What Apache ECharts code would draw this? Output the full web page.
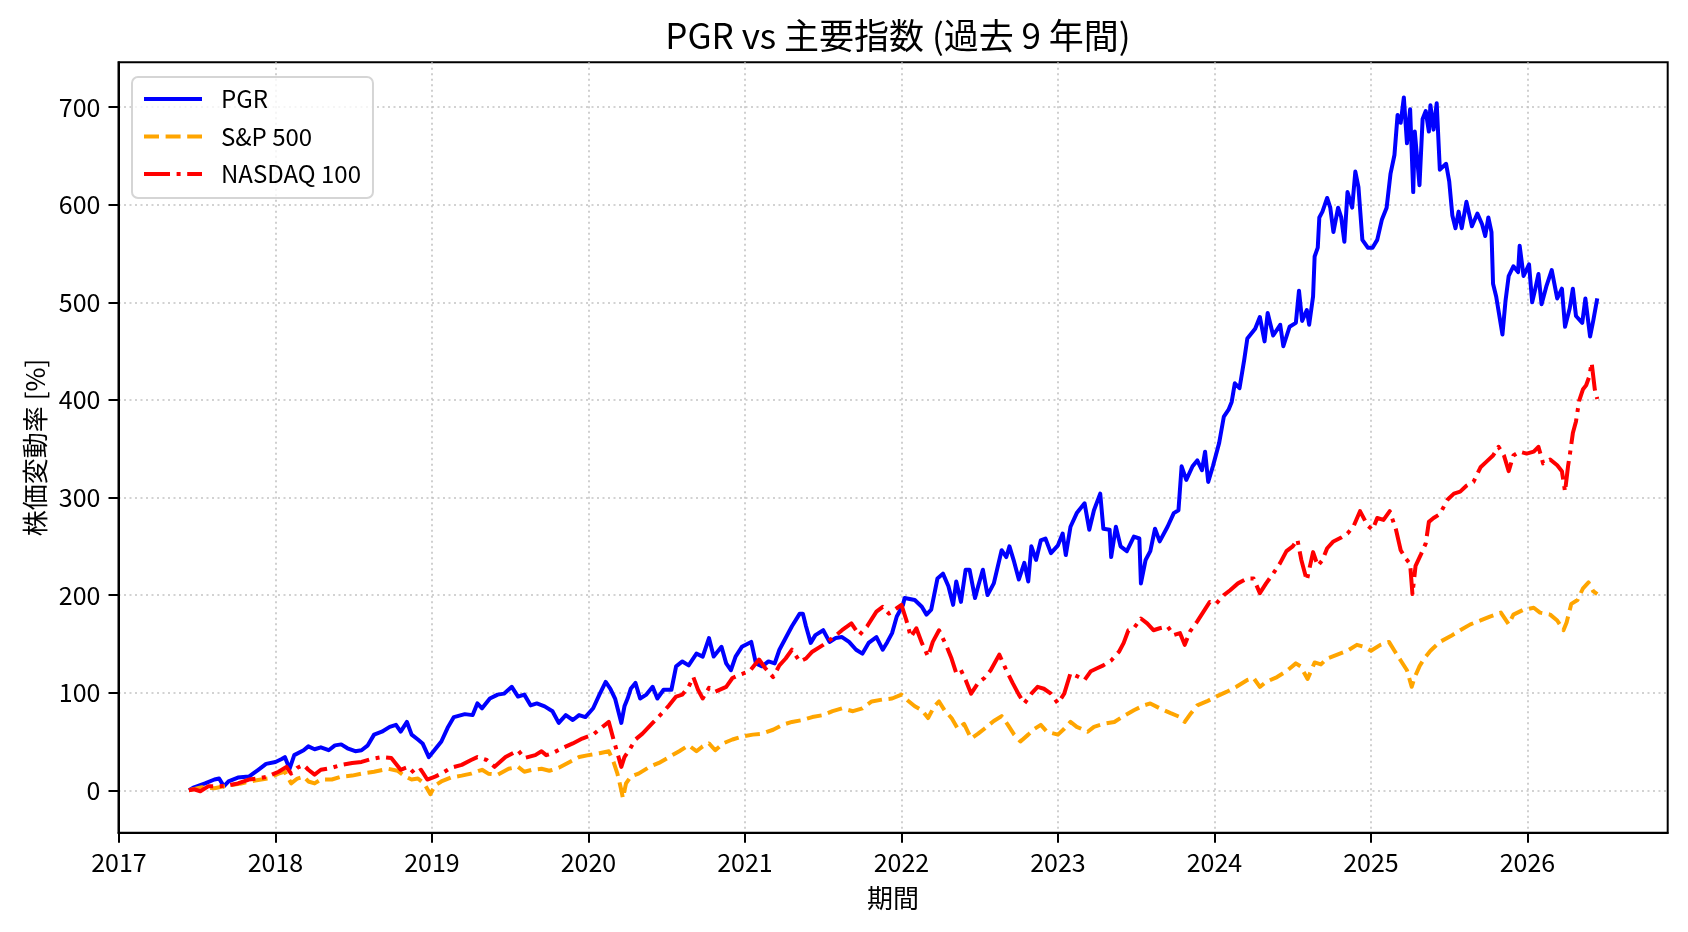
<!DOCTYPE html>
<html>
<head>
<meta charset="utf-8">
<title>PGR vs 主要指数</title>
<script src="https://cdn.jsdelivr.net/npm/echarts@6.0.0/dist/echarts.min.js"></script>
<style>
html, body { margin: 0; padding: 0; background: #fff; }
#chart { width: 1688px; height: 932px; }
</style>
</head>
<body>
<div id="chart"></div>
<script>
// 各点は [年(小数), 株価変動率 %]
var pgr = [
  [2017.447,0],[2017.48,3],[2017.55,7],[2017.61,11],[2017.64,12],[2017.67,4],[2017.70,9],[2017.76,13],[2017.83,14],[2017.89,21],
  [2017.94,27],[2018.00,29],[2018.04,32],[2018.06,34],[2018.09,22],[2018.12,36],[2018.18,41],[2018.21,45],[2018.25,42],[2018.29,44],
  [2018.34,41],[2018.38,46],[2018.42,47],[2018.46,43],[2018.51,40],[2018.55,41],[2018.59,46],[2018.63,57],[2018.68,60],[2018.73,65],
  [2018.77,67],[2018.80,60],[2018.84,70],[2018.87,57],[2018.91,52],[2018.94,48],[2018.98,34],[2019.01,40],[2019.06,50],[2019.10,64],
  [2019.14,75],[2019.21,78],[2019.26,77],[2019.29,89],[2019.32,84],[2019.37,94],[2019.42,98],[2019.46,99],[2019.51,106],[2019.55,96],
  [2019.59,98],[2019.63,87],[2019.67,89],[2019.72,86],[2019.77,81],[2019.81,69],[2019.855,77],[2019.90,72],[2019.94,77],[2019.98,75],
  [2020.03,84],[2020.07,98],[2020.11,111],[2020.14,104],[2020.17,94],[2020.21,69],[2020.23,86],[2020.25,94],[2020.27,104],[2020.30,110],
  [2020.33,94],[2020.37,98],[2020.41,106],[2020.44,94],[2020.48,103],[2020.53,103],[2020.56,127],[2020.60,132],[2020.64,128],[2020.69,140],
  [2020.73,137],[2020.77,156],[2020.80,137],[2020.85,147],[2020.88,130],[2020.91,123],[2020.94,137],[2020.98,147],[2021.04,152],[2021.07,130],
  [2021.11,127],[2021.15,132],[2021.19,130],[2021.22,144],[2021.26,156],[2021.30,168],[2021.35,181],[2021.37,181],[2021.39,168],[2021.42,151],
  [2021.45,159],[2021.50,164],[2021.54,152],[2021.58,156],[2021.62,157],[2021.665,152],[2021.71,144],[2021.75,140],[2021.79,151],[2021.84,157],
  [2021.88,144],[2021.91,152],[2021.94,161],[2021.97,178],[2022.01,190],[2022.02,197],[2022.085,195],[2022.13,188],[2022.16,180],[2022.19,185],
  [2022.23,217],[2022.265,222],[2022.30,209],[2022.33,190],[2022.35,214],[2022.38,193],[2022.41,226],[2022.435,226],[2022.47,197],[2022.49,209],
  [2022.52,226],[2022.55,200],[2022.59,212],[2022.64,246],[2022.67,239],[2022.69,250],[2022.72,234],[2022.75,216],[2022.785,233],[2022.81,214],
  [2022.83,250],[2022.86,236],[2022.89,256],[2022.92,258],[2022.955,243],[2023.00,251],[2023.03,263],[2023.05,241],[2023.08,270],[2023.12,284],
  [2023.17,294],[2023.20,267],[2023.23,287],[2023.27,304],[2023.29,268],[2023.33,267],[2023.34,239],[2023.37,270],[2023.40,250],[2023.44,245],
  [2023.485,260],[2023.52,258],[2023.53,212],[2023.56,236],[2023.59,245],[2023.62,268],[2023.65,255],[2023.70,270],[2023.74,284],[2023.77,287],
  [2023.79,332],[2023.82,318],[2023.86,332],[2023.89,338],[2023.92,328],[2023.94,347],[2023.96,316],[2023.99,332],[2024.03,356],[2024.06,383],
  [2024.09,390],[2024.11,398],[2024.13,417],[2024.16,412],[2024.19,441],[2024.21,463],[2024.26,473],[2024.29,485],[2024.32,460],[2024.34,489],
  [2024.375,466],[2024.42,477],[2024.44,455],[2024.48,475],[2024.52,479],[2024.54,512],[2024.56,481],[2024.59,492],[2024.605,477],[2024.63,506],
  [2024.64,547],[2024.66,556],[2024.67,587],[2024.69,593],[2024.72,607],[2024.74,597],[2024.76,572],[2024.79,597],[2024.81,587],[2024.83,562],
  [2024.85,613],[2024.88,597],[2024.90,634],[2024.92,618],[2024.945,564],[2024.98,556],[2025.01,556],[2025.04,564],[2025.07,585],[2025.10,597],
  [2025.125,632],[2025.15,651],[2025.17,692],[2025.19,684],[2025.21,710],[2025.23,663],[2025.25,698],[2025.27,613],[2025.28,675],[2025.31,620],
  [2025.33,688],[2025.35,696],[2025.37,675],[2025.38,702],[2025.40,677],[2025.42,704],[2025.44,636],[2025.48,642],[2025.50,624],[2025.52,589],
  [2025.54,576],[2025.56,593],[2025.58,576],[2025.61,603],[2025.645,578],[2025.68,591],[2025.71,580],[2025.73,568],[2025.75,587],[2025.77,572],
  [2025.78,519],[2025.80,506],[2025.84,467],[2025.86,502],[2025.88,527],[2025.91,537],[2025.94,531],[2025.95,558],[2025.975,527],[2026.01,539],
  [2026.03,500],[2026.05,514],[2026.07,529],[2026.09,498],[2026.12,516],[2026.155,533],[2026.19,504],[2026.22,514],[2026.24,475],[2026.27,494],
  [2026.29,514],[2026.31,486],[2026.35,479],[2026.37,504],[2026.40,465],[2026.42,481],[2026.446,504]
];

var sp500 = [
  [2017.447,0],[2017.53,3],[2017.61,2],[2017.70,5],[2017.78,7],[2017.87,10],[2017.95,12],[2018.02,17],[2018.06,19],[2018.10,7],
  [2018.14,12],[2018.18,14],[2018.21,9],[2018.25,7],[2018.29,11],[2018.36,11],[2018.42,14],[2018.49,15],[2018.55,17],[2018.63,19],
  [2018.72,22],[2018.78,20],[2018.83,14],[2018.87,11],[2018.91,12],[2018.95,7],[2018.99,-4],[2019.02,5],[2019.06,9],[2019.12,13],
  [2019.19,15],[2019.25,17],[2019.32,21],[2019.36,17],[2019.42,16],[2019.49,22],[2019.55,24],[2019.59,19],[2019.64,21],[2019.70,22],
  [2019.75,20],[2019.81,23],[2019.88,29],[2019.94,34],[2020.00,36],[2020.07,38],[2020.13,40],[2020.16,29],[2020.185,17],[2020.21,0],
  [2020.22,-8],[2020.24,7],[2020.27,14],[2020.32,17],[2020.39,24],[2020.45,28],[2020.515,34],[2020.58,40],[2020.64,46],[2020.69,40],
  [2020.73,45],[2020.77,48],[2020.81,41],[2020.86,48],[2020.92,52],[2020.98,55],[2021.05,57],[2021.11,58],[2021.18,62],[2021.24,67],
  [2021.30,70],[2021.37,72],[2021.43,75],[2021.50,77],[2021.56,81],[2021.62,84],[2021.69,81],[2021.75,84],[2021.81,91],[2021.88,93],
  [2021.94,94],[2022.00,98],[2022.04,92],[2022.085,86],[2022.13,82],[2022.17,74],[2022.21,86],[2022.24,91],[2022.275,82],[2022.32,74],
  [2022.36,63],[2022.40,68],[2022.445,53],[2022.49,58],[2022.53,63],[2022.59,71],[2022.64,76],[2022.68,67],[2022.72,57],[2022.76,50],
  [2022.81,57],[2022.85,63],[2022.89,67],[2022.93,60],[2023.00,57],[2023.04,63],[2023.08,70],[2023.12,65],[2023.19,60],[2023.23,65],
  [2023.29,68],[2023.36,70],[2023.42,76],[2023.485,82],[2023.55,87],[2023.59,89],[2023.65,84],[2023.72,79],[2023.78,75],[2023.81,70],
  [2023.85,79],[2023.89,87],[2023.95,91],[2024.01,96],[2024.08,101],[2024.14,106],[2024.21,113],[2024.25,115],[2024.29,106],[2024.33,111],
  [2024.40,116],[2024.46,122],[2024.52,130],[2024.55,127],[2024.595,114],[2024.64,131],[2024.68,129],[2024.72,135],[2024.785,139],[2024.85,143],
  [2024.91,149],[2024.955,147],[2025.00,143],[2025.06,149],[2025.115,152],[2025.15,143],[2025.19,133],[2025.23,123],[2025.26,106],[2025.28,116],
  [2025.31,127],[2025.34,135],[2025.38,143],[2025.44,152],[2025.51,158],[2025.57,164],[2025.635,170],[2025.70,174],[2025.76,178],[2025.83,182],
  [2025.88,170],[2025.91,180],[2025.975,185],[2026.04,187],[2026.08,182],[2026.145,180],[2026.19,174],[2026.23,164],[2026.25,172],[2026.28,191],
  [2026.32,195],[2026.355,207],[2026.39,213],[2026.42,204],[2026.446,201]
];

var nasdaq100 = [
  [2017.447,0],[2017.48,1],[2017.52,-1],[2017.57,4],[2017.63,4],[2017.70,5],[2017.76,7],[2017.83,11],[2017.89,12],[2017.95,14],
  [2018.02,19],[2018.07,24],[2018.10,17],[2018.14,23],[2018.18,26],[2018.21,21],[2018.25,16],[2018.29,21],[2018.36,23],[2018.42,26],
  [2018.49,28],[2018.55,29],[2018.61,32],[2018.68,34],[2018.74,33],[2018.80,21],[2018.85,24],[2018.89,17],[2018.93,21],[2018.97,11],
  [2019.02,14],[2019.06,17],[2019.12,23],[2019.19,26],[2019.25,31],[2019.29,34],[2019.35,31],[2019.40,24],[2019.47,34],[2019.55,41],
  [2019.59,33],[2019.66,36],[2019.70,40],[2019.73,36],[2019.77,38],[2019.83,43],[2019.90,48],[2019.96,53],[2020.03,57],[2020.09,65],
  [2020.13,70],[2020.16,52],[2020.185,38],[2020.21,24],[2020.23,34],[2020.26,41],[2020.30,52],[2020.345,58],[2020.41,69],[2020.47,79],
  [2020.515,87],[2020.56,96],[2020.60,98],[2020.64,106],[2020.67,116],[2020.70,103],[2020.73,94],[2020.77,105],[2020.81,101],[2020.88,106],
  [2020.92,115],[2020.96,118],[2021.03,122],[2021.09,134],[2021.13,125],[2021.18,116],[2021.22,128],[2021.26,135],[2021.30,144],[2021.35,132],
  [2021.39,135],[2021.43,142],[2021.50,149],[2021.56,156],[2021.62,164],[2021.68,171],[2021.73,159],[2021.78,168],[2021.84,183],[2021.88,188],
  [2021.92,181],[2021.965,186],[2022.00,190],[2022.03,175],[2022.06,157],[2022.095,166],[2022.13,151],[2022.17,137],[2022.20,152],[2022.24,164],
  [2022.29,147],[2022.32,135],[2022.35,120],[2022.38,123],[2022.41,113],[2022.445,99],[2022.49,110],[2022.53,115],[2022.57,123],[2022.625,139],
  [2022.67,123],[2022.71,110],[2022.75,98],[2022.785,89],[2022.83,99],[2022.87,106],[2022.91,104],[2022.955,99],[2023.00,89],[2023.04,99],
  [2023.08,120],[2023.12,117],[2023.17,113],[2023.21,122],[2023.25,125],[2023.29,128],[2023.34,133],[2023.39,142],[2023.42,151],[2023.45,164],
  [2023.485,166],[2023.53,176],[2023.57,171],[2023.61,164],[2023.65,166],[2023.70,168],[2023.74,159],[2023.78,161],[2023.81,149],[2023.845,163],
  [2023.89,173],[2023.93,183],[2023.97,193],[2024.01,191],[2024.06,200],[2024.10,205],[2024.15,212],[2024.21,217],[2024.25,217],[2024.29,202],
  [2024.33,212],[2024.375,222],[2024.42,233],[2024.46,245],[2024.50,250],[2024.53,257],[2024.555,236],[2024.59,215],[2024.63,244],[2024.66,230],
  [2024.69,236],[2024.72,248],[2024.76,255],[2024.81,259],[2024.85,263],[2024.89,271],[2024.93,286],[2024.98,271],[2025.01,267],[2025.04,279],
  [2025.08,277],[2025.12,286],[2025.16,267],[2025.19,246],[2025.22,238],[2025.25,232],[2025.265,201],[2025.285,230],[2025.32,242],[2025.35,253],
  [2025.37,275],[2025.40,279],[2025.44,283],[2025.49,298],[2025.53,304],[2025.57,306],[2025.61,312],[2025.655,316],[2025.70,331],[2025.74,337],
  [2025.78,343],[2025.815,352],[2025.85,343],[2025.88,327],[2025.91,343],[2025.95,347],[2025.995,345],[2026.04,347],[2026.07,352],[2026.10,335],
  [2026.145,339],[2026.19,333],[2026.22,327],[2026.24,306],[2026.26,333],[2026.27,343],[2026.29,366],[2026.31,378],[2026.33,399],[2026.355,411],
  [2026.375,415],[2026.395,424],[2026.41,438],[2026.43,411],[2026.446,401]
];

var yearTicks = [2017, 2018, 2019, 2020, 2021, 2022, 2023, 2024, 2025, 2026];
var pctTicks = [0, 100, 200, 300, 400, 500, 600, 700];
var seriesNames = ['PGR', 'S&P 500', 'NASDAQ 100'];

var font = '"Noto Sans CJK JP", "Noto Sans", sans-serif';
var gridLine = { color: '#c4c4c4', width: 1.6, type: [2, 3.5] };
var clear = 'rgba(0,0,0,0)';

function axis_text(size) {
    return { fontFamily: font, fontSize: size, color: '#000' };
}

function make_series(name, data, color, dash) {
    return {
        name: name,
        type: 'line',
        data: data,
        symbol: 'none',
        silent: true,
        animation: false,
        itemStyle: { color: color },
        lineStyle: { color: color, width: 4, type: dash, join: 'round' }
    };
}

chart = echarts.init(document.getElementById('chart'));
chart.setOption({
    animation: false,
    textStyle: { fontFamily: font },
    title: {
        text: 'PGR vs 主要指数 (過去 9 年間)',
        left: 893,
        top: 13,
        textAlign: 'center',
        textStyle: { fontFamily: font, fontSize: 35, fontWeight: 'normal', color: '#000' }
    },
    grid: {
        left: 118.5, right: 20.3, top: 62.3, bottom: 99.3,
        show: true, borderColor: '#000', borderWidth: 2,
        outerBoundsMode: 'none'
    },
    legend: {
        data: seriesNames,
        orient: 'vertical',
        left: 132, top: 77,
        padding: [10, 12, 12, 10],
        itemGap: 13.5, itemWidth: 58, itemHeight: 20,
        backgroundColor: 'rgba(255,255,255,0.8)',
        borderColor: '#d5d5d5', borderWidth: 2, borderRadius: 6,
        lineStyle: { width: 4 },
        // 線の凡例に付く丸印を消す
        itemStyle: { color: clear, borderColor: clear, borderWidth: 0, opacity: 0 },
        selectedMode: false,
        textStyle: { fontFamily: font, fontSize: 24, color: '#000', padding: [0, 0, 0, 14] }
    },
    xAxis: {
        type: 'value',
        min: 2016.997, max: 2026.896,
        splitNumber: 10,
        name: '期間', nameLocation: 'middle', nameGap: 52,
        nameTextStyle: axis_text(26),
        axisLine: { show: true, onZero: false, lineStyle: { color: '#000', width: 2 } },
        axisTick: { show: true, length: 10, lineStyle: { color: '#000', width: 2 }, customValues: yearTicks },
        axisLabel: Object.assign(axis_text(25), {
            margin: 17, customValues: yearTicks,
            formatter: function (v) { return String(v); }
        }),
        splitLine: { show: true, lineStyle: gridLine }
    },
    yAxis: {
        type: 'value',
        min: -43.5, max: 746,
        splitNumber: 8,
        name: '株価変動率 [%]', nameLocation: 'middle', nameGap: 70, nameRotate: 90,
        nameTextStyle: axis_text(26),
        axisLine: { show: true, lineStyle: { color: '#000', width: 2 } },
        axisTick: { show: true, length: 10, lineStyle: { color: '#000', width: 2 }, customValues: pctTicks },
        axisLabel: Object.assign(axis_text(25), {
            margin: 18, customValues: pctTicks,
            formatter: function (v) { return String(v); }
        }),
        splitLine: { show: true, lineStyle: gridLine }
    },
    series: [
        make_series(seriesNames[0], pgr, '#0000ff', 'solid'),
        make_series(seriesNames[1], sp500, '#ffa500', [15, 6.6]),
        make_series(seriesNames[2], nasdaq100, '#ff0000', [26, 6.6, 4, 6.6])
    ]
});
</script>
</body>
</html>
